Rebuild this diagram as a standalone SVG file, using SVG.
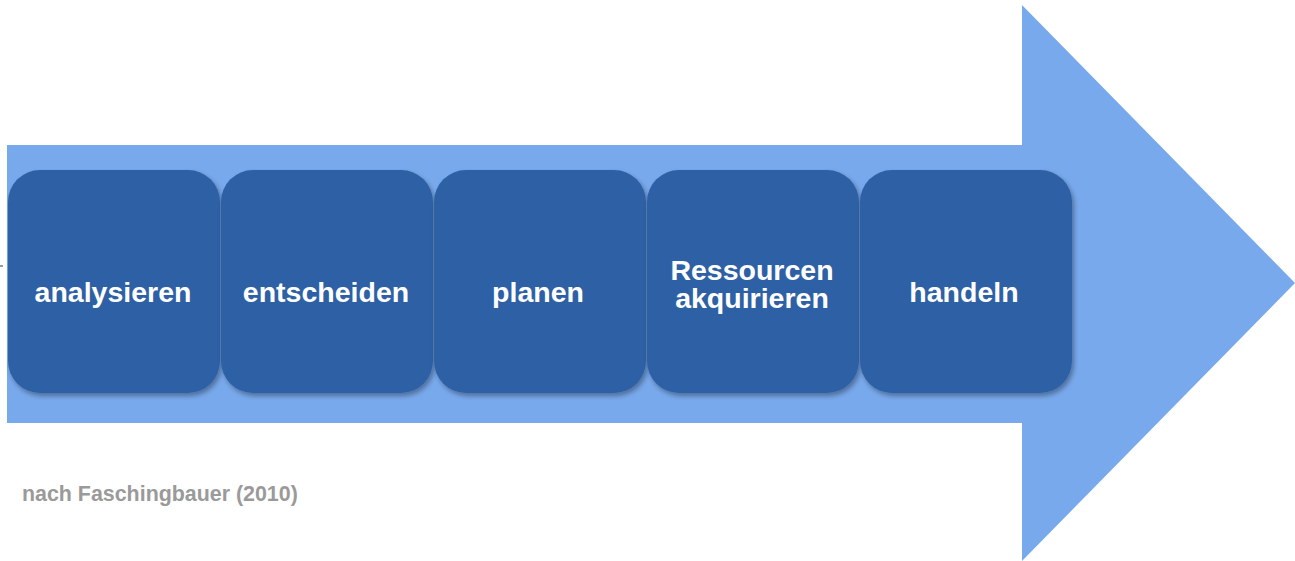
<svg xmlns="http://www.w3.org/2000/svg" width="1295" height="561" viewBox="0 0 1295 561">
<defs>
<style>
.step{fill:#2F60A5;filter:url(#sh);}
.lbl{font-family:"Liberation Sans",Arial,sans-serif;font-weight:bold;font-size:28.5px;fill:#FFFFFF;text-anchor:middle;}
.src{font-family:"Liberation Sans",Arial,sans-serif;font-weight:bold;font-size:21.4px;fill:#9A9A9A;}
</style>
<filter id="sh" x="-10%" y="-10%" width="125%" height="125%">
<feGaussianBlur in="SourceAlpha" stdDeviation="2.5"/>
<feOffset dx="2" dy="3" result="b"/>
<feComponentTransfer><feFuncA type="linear" slope="0.35"/></feComponentTransfer>
<feMerge><feMergeNode/><feMergeNode in="SourceGraphic"/></feMerge>
</filter>
</defs>
<rect width="1295" height="561" fill="#FFFFFF"/>
<g id="arrow">
<polygon points="7,145 1022,145 1022,5 1295,283 1022,561 1022,423 7,423" fill="#78A9EC"/>
</g>
<line x1="0" y1="266" x2="3" y2="266" stroke="#333333" stroke-width="1"/>
<g id="step1"><rect class="step" x="8" y="170" width="212" height="223" rx="32"/><text class="lbl" x="113" y="302">analysieren</text></g>
<g id="step2"><rect class="step" x="221" y="170" width="212" height="223" rx="32"/><text class="lbl" x="326" y="302">entscheiden</text></g>
<g id="step3"><rect class="step" x="434" y="170" width="212" height="223" rx="32"/><text class="lbl" x="538" y="302">planen</text></g>
<g id="step4"><rect class="step" x="647" y="170" width="212" height="223" rx="32"/><text class="lbl" x="752" y="280">Ressourcen</text><text class="lbl" x="752" y="308">akquirieren</text></g>
<g id="step5"><rect class="step" x="860" y="170" width="212" height="223" rx="32"/><text class="lbl" x="964" y="302">handeln</text></g>
<g id="connectors"></g>
<text class="src" x="22" y="501">nach Faschingbauer (2010)</text>
</svg>
